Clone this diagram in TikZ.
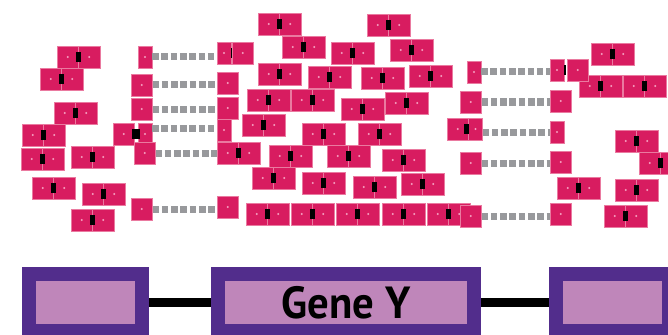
\documentclass[tikz,border=0pt]{standalone}
\usepackage{fontspec}
\newfontfamily\genefont{PT Sans}

\definecolor{dimerpink}{RGB}{216,28,96}
\definecolor{rimpink}{RGB}{234,122,160}
\definecolor{spotpink}{RGB}{245,160,192}
\definecolor{linkgray}{RGB}{152,153,156}
\definecolor{exondark}{RGB}{82,45,140}
\definecolor{exonlight}{RGB}{191,134,186}

\tikzset{
  mono/.style={rectangle, fill=dimerpink, draw=rimpink, line width=0.5pt,
    minimum width=21.5pt, minimum height=22pt, inner sep=0pt, outer sep=0pt,
    path picture={\fill[spotpink] (path picture bounding box.center) circle (1.2pt);}},
  slim/.style={mono, minimum width=14pt},
  hinge/.style={fill=black, minimum width=5pt, minimum height=9.5pt, inner sep=0pt, outer sep=0pt},
  linker/.style={linkgray, line width=7pt, dash pattern=on 6.6pt off 2.7pt},
  exon/.style={fill=exonlight, draw=exondark, line width=14pt, minimum height=57pt, inner sep=0pt},
  intron/.style={line width=9pt},
}

% a dimer: name, top left corner
\newcommand{\dimer}[3]{%
  \node[mono, anchor=north west] (#1-a) at (#2,#3) {};
  \node[mono, anchor=west] (#1-b) at (#1-a.east) {};
  \node[hinge] (#1-h) at (#1-a.east) {};
}

\begin{document}
\begin{tikzpicture}[x=1pt,y=-1pt]
\useasboundingbox (0,0) rectangle (668,334);

% free dimers
\foreach \x/\y [count=\i] in {57/46, 40/68, 54/102, 22/124, 21/148, 71/146, 32/177, 82/183, 71/209,
    258/13, 367/14, 282/36, 331/42, 390/39, 258/63, 308/66, 361/67, 409/65,
    247/89, 291/89, 341/98, 385/92, 242/114, 302/123, 358/123,
    269/145, 327/145, 382/149, 252/167, 302/172, 353/176, 401/173,
    246/203, 291/203, 336/203, 382/203, 427/203,
    591/43, 579/75, 623/75, 615/130, 639/152, 557/177, 615/179, 604/205}
  {\dimer{d\i}{\x}{\y}}

% left ladder
\node[slim, anchor=north west] (l1) at (138,46) {};
\node[slim, anchor=north west] (r1) at (217,42) {};
\node[mono, anchor=north west] (r1b) at (232,42) {};
\node[hinge, minimum width=1.5pt] (r1h) at (231.5,53) {};
\node[mono, anchor=north west] (l2) at (131,74) {};
\node[mono, anchor=north west] (r2) at (217,72) {};
\node[mono, anchor=north west] (l3) at (131,98) {};
\node[mono, anchor=north west] (r3) at (217,97) {};
\node[mono, anchor=north west] (l4a) at (113,123) {};
\node[slim, anchor=north west] (l4) at (138,123) {};
\node[hinge, minimum width=8pt, minimum height=10pt] (l4h) at (135.5,133.5) {};
\node[slim, anchor=north west] (r4) at (217,119) {};
\node[mono, anchor=north west] (l5) at (134,142) {};
\dimer{r5}{217}{142}
\node[mono, anchor=north west] (l6) at (131,198) {};
\node[mono, anchor=north west] (r6) at (217,196) {};
\draw[linker] (l1.east) -- (l1.east -| r1.west);
\draw[linker] (l2.east) -- (l2.east -| r2.west);
\draw[linker] (l3.east) -- (l3.east -| r3.west);
\draw[linker] ([yshift=5.5pt]l4.east) -- ([yshift=5.5pt]l4.east -| r4.west);
\draw[linker] (l5.east) -- (l5.east -| r5-a.west);
\draw[linker] (l6.east) -- (l6.east -| r6.west);

% right ladder
\node[slim, anchor=north west] (q1) at (467,61) {};
\node[slim, anchor=north west] (p1) at (550,59) {};
\node[mono, anchor=north west] (p1b) at (567,59) {};
\node[hinge, minimum width=2pt] (p1h) at (565,70) {};
\node[mono, anchor=north west] (q2) at (460,91) {};
\node[mono, anchor=north west] (p2) at (550,90) {};
\node[mono, anchor=north west] (q3a) at (447,118) {};
\node[slim, anchor=north west] (q3) at (468.5,118) {};
\node[hinge] (q3h) at (466,129) {};
\node[slim, anchor=north west] (p3) at (550,121) {};
\node[mono, anchor=north west] (q4) at (460,152) {};
\node[mono, anchor=north west] (p4) at (550,151) {};
\node[mono, anchor=north west] (q5) at (460,205) {};
\node[mono, anchor=north west] (p5) at (550,203) {};
\draw[linker] (q1.east) -- (q1.east -| p1.west);
\draw[linker] (q2.east) -- (q2.east -| p2.west);
\draw[linker] ([yshift=-3.5pt]q3.east) -- ([yshift=-3.5pt]q3.east -| p3.west);
\draw[linker] (q4.east) -- (q4.east -| p4.west);
\draw[linker] (q5.east) -- (q5.east -| p5.west);

% gene
\node[exon, minimum width=113pt] (exon1) at (85.5,302.5) {};
\node[exon, minimum width=256pt, font=\genefont\bfseries\fontsize{45}{45}\selectfont]
  (exon2) at (346,302.5) {\scalebox{0.95}[1]{Gene Y}};
\node[exon, minimum width=113pt] (exon3) at (612.5,302.5) {};
\draw[intron] (exon1) -- (exon2) (exon2) -- (exon3);
\end{tikzpicture}
\end{document}
